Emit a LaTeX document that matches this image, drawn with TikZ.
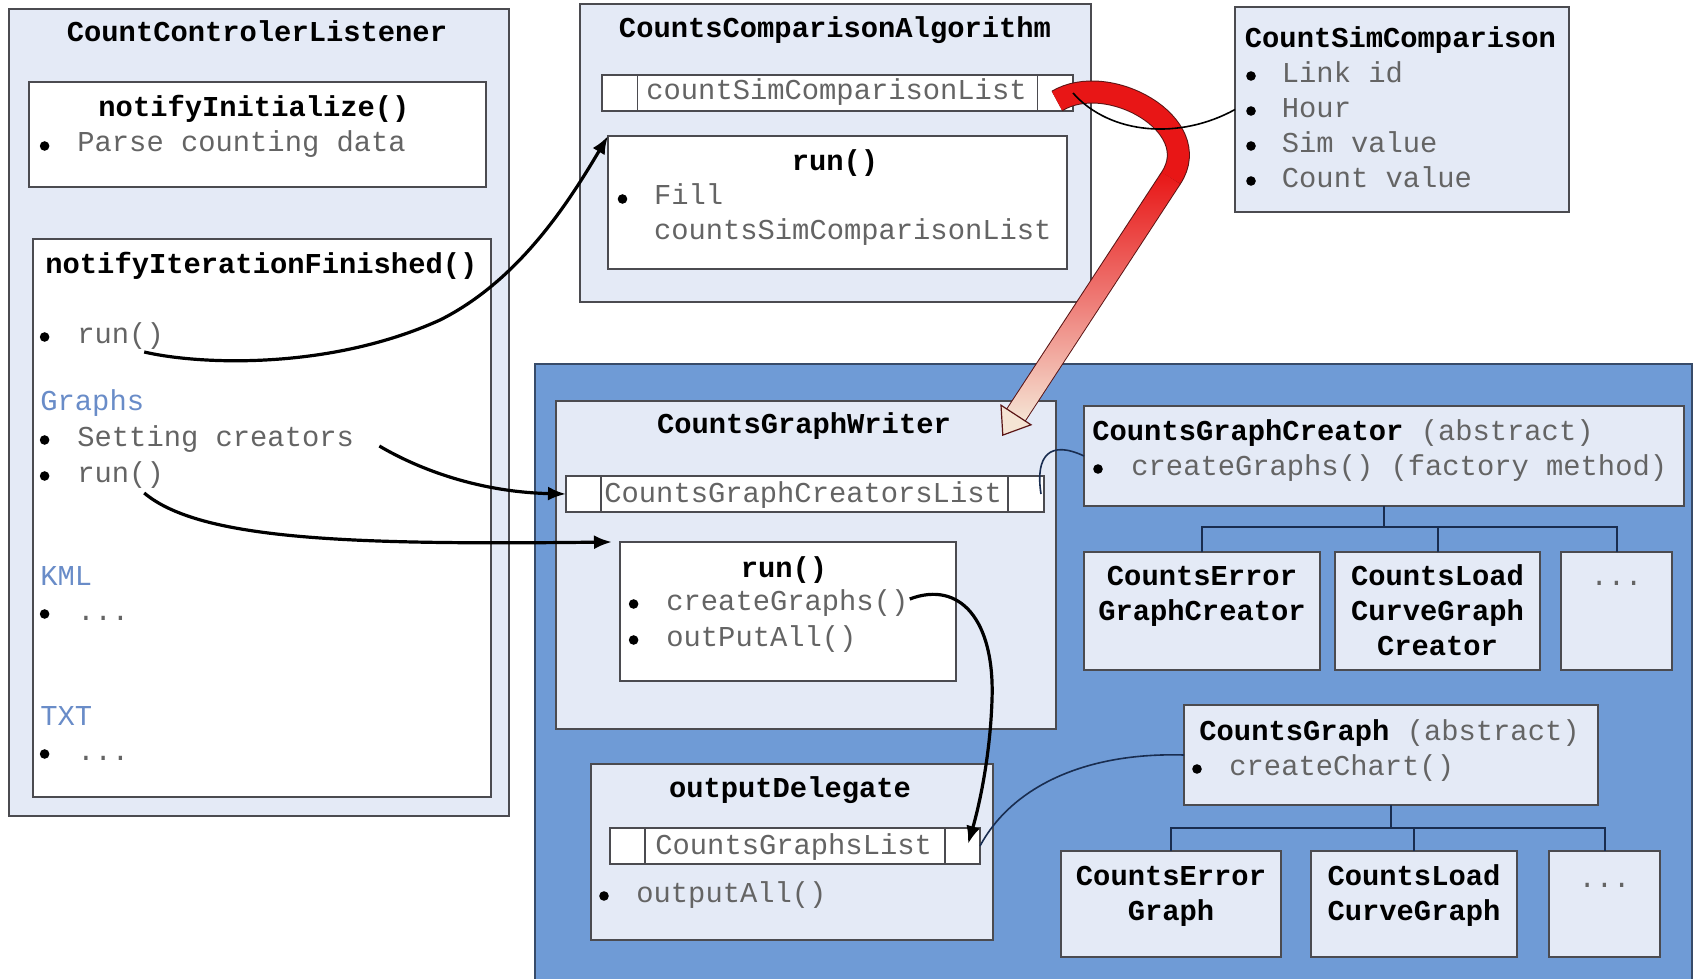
\documentclass[tikz,border=0pt]{standalone}
\usepackage{fontspec}
\usetikzlibrary{arrows.meta,calc}
\newfontfamily\lmono{Liberation Mono}
\newcommand\ttlfont{\lmono\bfseries\fontsize{14.4pt}{17.5pt}\selectfont}
\newcommand\itmfont{\lmono\mdseries\fontsize{14.4pt}{17.5pt}\selectfont}
\definecolor{lite}{RGB}{228,234,246}
\definecolor{bord}{RGB}{75,75,80}
\definecolor{bigblue}{RGB}{111,155,214}
\definecolor{bigbord}{RGB}{55,75,105}
\definecolor{navy}{RGB}{25,45,80}
\definecolor{itemgray}{RGB}{100,100,100}
\definecolor{secblue}{RGB}{105,140,200}
\definecolor{redA}{RGB}{232,22,22}
\definecolor{redB}{RGB}{238,120,115}
\definecolor{cream}{RGB}{245,228,212}
\definecolor{redline}{RGB}{90,20,20}
\newcommand\mkbox[6][]{\node[#1, minimum width={(#4-#2)*0.5pt}, minimum height={(#5-#3)*0.5pt}, inner sep=0pt, outer sep=0pt] (#6) at ({(#2+#4)/2},{(#3+#5)/2}) {};}
\newcommand\abstr{{\color{itemgray}\itmfont\ (abstract)}}
\tikzset{
 lbox/.style={draw=bord, fill=lite, line width=0.75pt},
 wbox/.style={draw=bord, fill=white, line width=0.75pt},
 bigb/.style={draw=bigbord, fill=bigblue, line width=0.75pt},
 ttl/.style={font=\ttlfont, text=black, inner sep=0pt},
 itm/.style={font=\itmfont, text=itemgray, inner sep=0pt, anchor=base west},
 itc/.style={font=\itmfont, text=itemgray, inner sep=0pt, anchor=base},
 sec/.style={font=\itmfont, text=secblue, inner sep=0pt, anchor=base west},
 bul/.style={fill=black, circle, inner sep=0pt, minimum size=4.8pt},
 divl/.style={draw=bord, line width=0.75pt},
 flow/.style={line width=1.6pt, -{Latex[length=9pt,width=7pt]}},
 thinlink/.style={line width=0.8pt},
 treeln/.style={line width=1pt, draw=navy},
}
\begin{document}
\begin{tikzpicture}[x=0.5pt,y=-0.5pt]
\useasboundingbox (0,0) rectangle (1693,979);
% ---- left panel
\mkbox[lbox]{9}{9}{509}{816}{ccl}
\mkbox[wbox]{29}{82}{486}{187}{ni}
\mkbox[wbox]{33}{239}{491}{797}{nif}
% ---- comparison algorithm
\mkbox[lbox]{580}{4}{1091}{302}{ca}
\mkbox[wbox]{602}{75}{1073}{111}{caList}
\mkbox[wbox]{608}{136}{1067}{269}{caRun}
\mkbox[lbox]{1235}{7}{1569}{212}{cs}
% ---- big blue area
\mkbox[bigb]{535}{364}{1692}{995}{blue}
\mkbox[lbox]{556}{401}{1056}{729}{gw}
\mkbox[wbox]{566}{476}{1044}{512}{gwList}
\mkbox[wbox]{620}{542}{956}{681}{gwRun}
\mkbox[lbox]{1084}{406}{1684}{506}{gc}
\mkbox[lbox]{1084}{552}{1320}{670}{gcA}
\mkbox[lbox]{1335}{552}{1540}{670}{gcB}
\mkbox[lbox]{1561}{552}{1672}{670}{gcC}
\mkbox[lbox]{591}{764}{993}{940}{od}
\mkbox[wbox]{610}{828}{980}{864}{odList}
\mkbox[lbox]{1184}{705}{1598}{805}{cg}
\mkbox[lbox]{1061}{851}{1281}{957}{cgA}
\mkbox[lbox]{1311}{851}{1517}{957}{cgB}
\mkbox[lbox]{1549}{851}{1660}{957}{cgC}
% list dividers
\draw[divl] (637.5,75) -- (637.5,111) (1037.5,75) -- (1037.5,111);
\draw[divl] (601,476) -- (601,512) (1008,476) -- (1008,512);
\draw[divl] (645,828) -- (645,864) (945,828) -- (945,864);
% trees
\coordinate (gcj) at ($(gc.south)+(0,21)$);
\draw[treeln] (gc.south) -- (gcj);
\draw[treeln] (gcA.north) |- (gcj) -| (gcC.north);
\draw[treeln] (gcB.north) -- (gcB.north |- gcj);
\coordinate (cgj) at ($(cg.south)+(0,23)$);
\draw[treeln] (cg.south) -- (cgj);
\draw[treeln] (cgA.north) |- (cgj) -| (cgC.north);
\draw[treeln] (cgB.north) -- (cgB.north |- cgj);
% ---- texts left
\node[ttl, anchor=base] (tccl) at (257,42) {CountControlerListener};
\node[ttl, anchor=base] (tni) at (254,117) {notifyInitialize()};
\node[bul] (bA) at (44.6,146) {};
\node[itm] (tparse) at (77,152) {Parse counting data};
\node[ttl, anchor=base west] (tnif) at (45,273) {notifyIterationFinished()};
\node[bul] (bB) at (44.6,337) {};
\node[itm] (trunA) at (77,343) {run()};
\node[sec] (tgraphs) at (40,410) {Graphs};
\node[bul] (bC) at (44.6,440) {};
\node[itm] (tset) at (77,446) {Setting creators};
\node[bul] (bD) at (44.6,476) {};
\node[itm] (trunB) at (77,482) {run()};
\node[sec] (tkml) at (40,585) {KML};
\node[bul] (bE) at (44.6,614) {};
\node[itm] (tdotA) at (77,620) {...};
\node[sec] (ttxt) at (40,725) {TXT};
\node[bul] (bF) at (44.6,754) {};
\node[itm] (tdotB) at (77,760) {...};
% ---- texts comparison
\node[ttl, anchor=base] (tca) at (835,38) {CountsComparisonAlgorithm};
\node[itm] (tcaList) at (646,100) {countSimComparisonList};
\node[ttl, anchor=base] (tcaRun) at (835,170) {run()};
\node[bul] (bG) at (622.5,199) {};
\node[itm] (tfill) at (653.6,205) {Fill};
\node[itm] (tcscl) at (653.6,240) {countsSimComparisonList};
\node[ttl, anchor=base west] (tcs) at (1244.5,48) {CountSimComparison};
\node[bul] (bH) at (1251,76) {};
\node[itm] (tlink) at (1281.5,83) {Link id};
\node[bul] (bI) at (1251,111) {};
\node[itm] (thour) at (1281.5,118) {Hour};
\node[bul] (bJ) at (1251,146) {};
\node[itm] (tsim) at (1281.5,153) {Sim value};
\node[bul] (bK) at (1251,181) {};
\node[itm] (tcount) at (1281.5,188) {Count value};
% ---- texts writer
\node[ttl, anchor=base] (tgw) at (804,433) {CountsGraphWriter};
\node[itm] (tgwList) at (604,502) {CountsGraphCreatorsList};
\node[ttl, anchor=base] (tgwRun) at (784,577) {run()};
\node[bul] (bL) at (633.6,604) {};
\node[itm] (tcgr) at (666,610) {createGraphs()};
\node[bul] (bM) at (633.6,640) {};
\node[itm] (tout) at (666,646) {outPutAll()};
% ---- creator
\node[ttl, anchor=base west] (tgc) at (1092,440) {CountsGraphCreator\abstr};
\node[bul] (bN) at (1098,469) {};
\node[itm] (tgcI) at (1131,475) {createGraphs() (factory method)};
\node[ttl, anchor=base] (tgcA1) at (1202,585) {CountsError};
\node[ttl, anchor=base] (tgcA2) at (1202,620) {GraphCreator};
\node[ttl, anchor=base] (tgcB1) at (1437.5,585) {CountsLoad};
\node[ttl, anchor=base] (tgcB2) at (1437.5,620) {CurveGraph};
\node[ttl, anchor=base] (tgcB3) at (1437.5,655) {Creator};
\node[itc] (tgcC) at (1616.5,585) {...};
% ---- output delegate
\node[ttl, anchor=base] (tod) at (790,797) {outputDelegate};
\node[itm] (todList) at (655,854) {CountsGraphsList};
\node[bul] (bO) at (604,896) {};
\node[itm] (toa) at (636,902) {outputAll()};
% ---- counts graph
\node[ttl, anchor=base west] (tcg) at (1199,740) {CountsGraph\abstr};
\node[bul] (bP) at (1197,769) {};
\node[itm] (tcc) at (1229,775) {createChart()};
\node[ttl, anchor=base] (tcgA1) at (1171,885) {CountsError};
\node[ttl, anchor=base] (tcgA2) at (1171,920) {Graph};
\node[ttl, anchor=base] (tcgB1) at (1414,885) {CountsLoad};
\node[ttl, anchor=base] (tcgB2) at (1414,920) {CurveGraph};
\node[itc] (tcgC) at (1604.5,887) {...};
% ---- red band arrow
\coordinate (rS) at ($(caList.east)+(-16,8)$);
\coordinate (rP) at (1171,178);
\coordinate (rB) at (1016,415);
\draw[line width=11.5pt, draw=redline] (rS) .. controls (1108,70) and (1206,125) .. (rP) -- (rB);
\draw[line width=10.5pt, draw=redA] (rS) .. controls (1108,70) and (1206,125) .. (rP);
\shade[top color=redA, bottom color=cream, middle color=redB] (1179.8,183.8) -- (1162.2,172.3) -- (1007.2,409.3) -- (1024.8,420.8) -- cycle;
\filldraw[fill=cream, draw=redline, line width=0.6pt] (1031,424.8) -- (1002.8,435.1) -- (1001,405.2) -- cycle;
% ---- thin links
\draw[thinlink] (caList.east) .. controls (1110,135) and (1180,140) .. (cs.west);
\draw[thinlink, draw=navy] ($(gwList.east)+(-3,0)$) .. controls (1035,455) and (1050,440) .. (gc.west);
\draw[thinlink, draw=navy] (odList.east) .. controls (1010,790) and (1080,752) .. (cg.west);
% ---- flow arrows
\draw[flow] ($(trunA.base east)+(-20,9)$) .. controls (200,365) and (330,370) .. (440,320) .. controls (520,280) and (570,200) .. (caRun.north west);
\draw[flow] ($(tset.base east)+(25,0)$) .. controls (420,470) and (480,492) .. (gwList.west);
\draw[flow] ($(trunB.base east)+(-20,11)$) .. controls (200,540) and (350,545) .. ([xshift=-4pt]gwRun.north west);
\draw[flow] ($(tcgr.base east)+(1,-11)$) .. controls (960,580) and (995,620) .. (992,700) .. controls (990,760) and (978,810) .. ($(odList.east)+(-12,-2)$);
\end{tikzpicture}
\end{document}
